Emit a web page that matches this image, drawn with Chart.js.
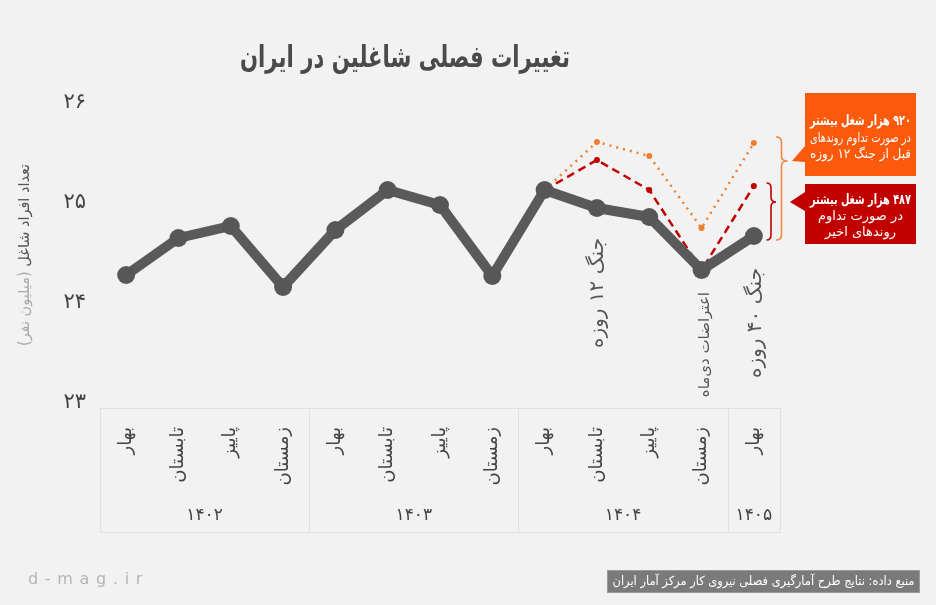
<!DOCTYPE html>
<html lang="fa">
<head>
<meta charset="utf-8">
<script src="https://cdn.jsdelivr.net/npm/chart.js@4.4.0/dist/chart.umd.min.js"></script>
<style>
  html, body { margin: 0; padding: 0; background: #f2f2f2; }
  #wrap { width: 936px; height: 605px; }
</style>
</head>
<body>
<div id="wrap"><canvas id="chart" width="936" height="605"></canvas></div>
<script>
const FONT = "'DejaVu Sans', sans-serif"

// quarters (Iranian calendar)
const seasons = ['بهار', 'تابستان', 'پاییز', 'زمستان', 'بهار', 'تابستان', 'پاییز', 'زمستان', 'بهار', 'تابستان', 'پاییز', 'زمستان', 'بهار']
const years = ['۱۴۰۲', '۱۴۰۳', '۱۴۰۴', '۱۴۰۵']
const yearSpans = [4, 4, 4, 1]

// employed people, million
const employed = [24.28, 24.65, 24.77, 24.16, 24.73, 25.13, 24.98, 24.27, 25.13, 24.95, 24.86, 24.33, 24.67]
const recentTrend = [null, null, null, null, null, null, null, null, 25.13, 25.43, 25.13, 24.33, 25.17]
const preWarTrend = [null, null, null, null, null, null, null, null, 25.13, 25.61, 25.47, 24.75, 25.60]

const yTicks = [23, 24, 25, 26]
const yTickLabels = ['۲۳', '۲۴', '۲۵', '۲۶']

const events = [
    { index: 9, text: 'جنگ ۱۲ روزه' },
    { index: 11, text: 'اعتراضات دی‌ماه' },
    { index: 12, text: 'جنگ ۴۰ روزه' },
]

const calloutPreWar = ['۹۲۰ هزار شغل بیشتر', 'در صورت تداوم روندهای', 'قبل از جنگ ۱۲ روزه']
const calloutRecent = ['۴۸۷ هزار شغل بیشتر', 'در صورت تداوم', 'روندهای اخیر']

const title = 'تغییرات فصلی شاغلین در ایران'
const yTitle = 'تعداد افراد شاغل'
const yTitleUnit = '(میلیون نفر)'
const source = 'منبع داده: نتایج طرح آمارگیری فصلی نیروی کار مرکز آمار ایران'
const site = 'd - m a g . i r'

function rotatedText(ctx, text, x, topY, font, color) {
    ctx.save()
    ctx.translate(x, topY)
    ctx.rotate(-Math.PI / 2)
    ctx.font = font
    ctx.fillStyle = color
    ctx.textAlign = 'right'
    ctx.textBaseline = 'middle'
    ctx.fillText(text, 0, 0)
    ctx.restore()
}

function brace(ctx, xl, xs, xt, y1, tipY, y2, color) {
    const r = 5
    ctx.save()
    ctx.strokeStyle = color
    ctx.lineWidth = 1.6
    ctx.beginPath()
    ctx.moveTo(xl, y1)
    ctx.quadraticCurveTo(xs, y1, xs, y1 + r)
    ctx.lineTo(xs, tipY - r)
    ctx.quadraticCurveTo(xs, tipY, xt, tipY)
    ctx.quadraticCurveTo(xs, tipY, xs, tipY + r)
    ctx.lineTo(xs, y2 - r)
    ctx.quadraticCurveTo(xs, y2, xl, y2)
    ctx.stroke()
    ctx.restore()
}

function callout(ctx, box, tri, lines, color, lineYs) {
    ctx.save()
    ctx.fillStyle = color
    ctx.fillRect(box[0], box[1], box[2], box[3])
    ctx.beginPath()
    ctx.moveTo(tri[0][0], tri[0][1])
    ctx.lineTo(tri[1][0], tri[1][1])
    ctx.lineTo(tri[2][0], tri[2][1])
    ctx.closePath()
    ctx.fill()
    ctx.fillStyle = '#ffffff'
    ctx.textAlign = 'center'
    ctx.textBaseline = 'middle'
    const cx = box[0] + box[2] / 2
    lines.forEach((t, i) => {
        ctx.font = (i === 0 ? 'bold 14px ' : '13px ') + FONT
        const w = ctx.measureText(t).width
        const maxW = box[2] - 10
        ctx.save()
        ctx.translate(cx, lineYs[i])
        if (w > maxW) ctx.scale(maxW / w, 1)
        ctx.fillText(t, 0, 0)
        ctx.restore()
    })
    ctx.restore()
}

const decorations = {
    id: 'decorations',
    beforeDraw(chart) {
        const ctx = chart.ctx
        ctx.save()
        ctx.fillStyle = '#f2f2f2'
        ctx.fillRect(0, 0, chart.width, chart.height)
        ctx.restore()
    },
    afterDraw(chart) {
        const ctx = chart.ctx
        const xs = chart.scales.x
        const ys = chart.scales.y
        const area = chart.chartArea

        // title
        ctx.save()
        ctx.direction = 'rtl'
        ctx.font = 'bold 30px ' + FONT
        ctx.fillStyle = '#4a4a4a'
        ctx.textAlign = 'center'
        ctx.textBaseline = 'middle'
        const tw = ctx.measureText(title).width
        ctx.translate(405, 59)
        if (tw > 330) ctx.scale(330 / tw, 1)
        ctx.fillText(title, 0, 0)
        ctx.restore()

        // y axis title, two tones
        ctx.save()
        ctx.direction = 'rtl'
        ctx.font = '15px ' + FONT
        const w1 = ctx.measureText(yTitle).width
        const w2 = ctx.measureText(yTitleUnit).width
        const gap = 5
        const total = w1 + gap + w2
        ctx.translate(25, 255)
        ctx.rotate(-Math.PI / 2)
        if (total > 182) ctx.scale(182 / total, 1)
        ctx.textBaseline = 'middle'
        ctx.textAlign = 'left'
        ctx.fillStyle = '#555555'
        ctx.fillText(yTitle, total / 2 - w1, 0)
        ctx.fillStyle = '#aaaaaa'
        ctx.fillText(yTitleUnit, -total / 2, 0)
        ctx.restore()

        // x axis box with year groups
        const boxTop = area.bottom + 5
        const boxBottom = 532
        ctx.save()
        ctx.strokeStyle = '#e0e0e0'
        ctx.lineWidth = 1
        ctx.strokeRect(area.left + 0.5, boxTop + 0.5, area.right - area.left, boxBottom - boxTop)
        let start = 0
        ctx.font = '17px ' + FONT
        ctx.fillStyle = '#444444'
        ctx.textAlign = 'center'
        ctx.textBaseline = 'middle'
        years.forEach((yr, i) => {
            const end = start + yearSpans[i] - 1
            const left = start === 0 ? area.left : (xs.getPixelForValue(start - 1) + xs.getPixelForValue(start)) / 2
            const right = end === seasons.length - 1 ? area.right : (xs.getPixelForValue(end) + xs.getPixelForValue(end + 1)) / 2
            if (start > 0) {
                ctx.beginPath()
                ctx.moveTo(Math.round(left) + 0.5, boxTop)
                ctx.lineTo(Math.round(left) + 0.5, boxBottom)
                ctx.stroke()
            }
            ctx.fillText(yr, (left + right) / 2, 516)
            start = end + 1
        })
        ctx.restore()

        // event labels under the line
        const evFonts = ['20px ', '15px ', '20px ']
        const evOffsets = [[1, 30], [4, 22], [2, 32]]
        events.forEach((ev, i) => {
            const x = xs.getPixelForValue(ev.index) + evOffsets[i][0]
            const y = ys.getPixelForValue(employed[ev.index]) + evOffsets[i][1]
            rotatedText(ctx, ev.text, x, y, evFonts[i] + FONT, '#555555')
        })

        // braces at the last quarter
        const last = seasons.length - 1
        const yBase = ys.getPixelForValue(employed[last]) + 4
        brace(ctx, 776, 781.5, 787.5, ys.getPixelForValue(preWarTrend[last]) - 6, 161, yBase, '#ef8a3c')
        brace(ctx, 766.5, 771, 776, ys.getPixelForValue(recentTrend[last]) - 3, 202, yBase, '#c00000')

        // callouts
        ctx.save()
        ctx.direction = 'rtl'
        callout(ctx, [805, 93, 111, 83], [[805, 146], [792, 161], [805, 162]], calloutPreWar, '#fb5a0c', [121, 139, 155])
        callout(ctx, [805, 184, 111, 60], [[805, 192], [790, 202], [805, 211]], calloutRecent, '#c10000', [200, 217, 233])
        ctx.restore()

        // footer
        ctx.save()
        ctx.font = '16px ' + FONT
        ctx.letterSpacing = '0.8px'
        ctx.fillStyle = '#b5b5b5'
        ctx.textAlign = 'left'
        ctx.textBaseline = 'middle'
        ctx.fillText(site, 28, 580)
        ctx.letterSpacing = '0px'
        ctx.fillStyle = '#7a7a7a'
        ctx.fillRect(607, 570, 313, 23)
        ctx.strokeStyle = '#9a9a9a'
        ctx.strokeRect(607.5, 570.5, 312, 22)
        ctx.direction = 'rtl'
        ctx.font = '12.5px ' + FONT
        ctx.fillStyle = '#ffffff'
        ctx.textAlign = 'center'
        const sw = ctx.measureText(source).width
        ctx.translate(763.5, 582)
        if (sw > 302) ctx.scale(302 / sw, 1)
        ctx.fillText(source, 0, 0)
        ctx.restore()
    }
}

const dotAt = (skip) => (c) => (skip.includes(c.dataIndex) ? 0 : 3)

new Chart(document.getElementById('chart'), {
    type: 'line',
    data: {
        labels: seasons,
        datasets: [
            {
                data: employed,
                borderColor: '#5a5a5a',
                backgroundColor: '#575757',
                borderWidth: 10,
                pointRadius: 9,
                pointBorderWidth: 0,
                borderJoinStyle: 'round',
                borderCapStyle: 'round',
            },
            {
                data: recentTrend,
                borderColor: '#c00000',
                backgroundColor: '#c00000',
                borderWidth: 2.5,
                borderDash: [8, 5],
                pointRadius: dotAt([8, 11]),
                pointBorderWidth: 0,
            },
            {
                data: preWarTrend,
                borderColor: '#ef7f30',
                backgroundColor: '#ef7f30',
                borderWidth: 2.5,
                borderDash: [2, 5],
                pointRadius: dotAt([8]),
                pointBorderWidth: 0,
            },
        ],
    },
    options: {
        responsive: false,
        animation: false,
        layout: { padding: { top: 103, right: 156, bottom: 72, left: 0 } },
        plugins: {
            legend: { display: false },
            tooltip: { enabled: false },
        },
        scales: {
            x: {
                offset: true,
                grid: { display: false },
                border: { display: false },
                ticks: {
                    autoSkip: false,
                    minRotation: 90,
                    maxRotation: 90,
                    padding: 16,
                    color: '#444444',
                    font: { family: FONT, size: 18 },
                },
                afterFit: (s) => { s.height = 130 },
            },
            y: {
                min: 23,
                max: 26,
                grid: { display: false },
                border: { display: false },
                afterBuildTicks: (s) => { s.ticks = yTicks.map((v) => ({ value: v })) },
                ticks: {
                    padding: 6,
                    color: '#444444',
                    font: { family: FONT, size: 21 },
                    callback: (v) => yTickLabels[yTicks.indexOf(v)],
                },
                afterFit: (s) => { s.width = 100 },
            },
        },
    },
    plugins: [decorations],
})
</script>
</body>
</html>
